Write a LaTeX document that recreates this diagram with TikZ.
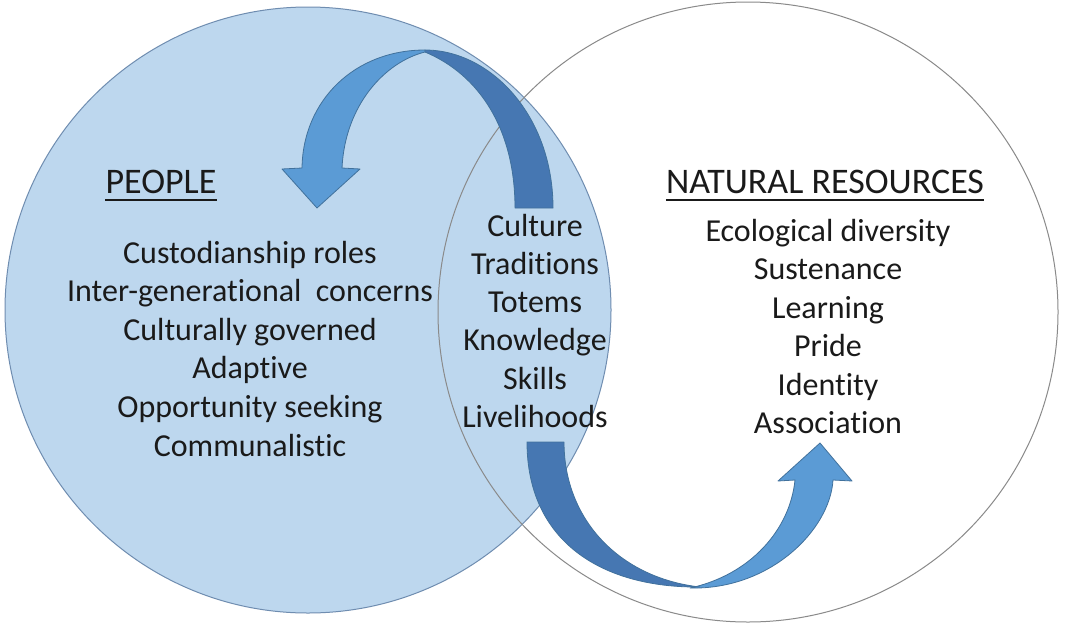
\documentclass[tikz,border=0pt]{standalone}
\usepackage{fontspec}
\setmainfont{Carlito}[Ligatures={NoCommon,NoRequired,NoContextual}]
% keep t and i apart, Carlito joins them otherwise
\newcommand{\tsep}{\kern0pt\relax}

\definecolor{peoplefill}{HTML}{BDD7EE}
\definecolor{peopleline}{HTML}{6F8DB0}
\definecolor{resline}{HTML}{8A8A8A}
\definecolor{arrowfront}{HTML}{5B9BD5}
\definecolor{arrowback}{HTML}{4677B2}
\definecolor{arrowedge}{HTML}{41719C}
\definecolor{textcol}{HTML}{1A1A1A}

\tikzset{
  itemtext/.style={text=textcol,font=\fontsize{32}{38}\selectfont,inner sep=0pt,anchor=base},
  heading/.style={itemtext,font=\fontsize{36}{40}\selectfont},
  underbar/.style={draw=textcol,line width=2.4pt},
  frontface/.style={fill=arrowfront,draw=arrowedge,line width=0.8pt,line join=round},
  backface/.style={fill=arrowback,draw=arrowedge,line width=0.8pt,line join=round}
}

\begin{document}
\begin{tikzpicture}[x=1pt,y=-1pt]
  \useasboundingbox (0,0) rectangle (1065,624);
  \fill[white] (0,0) rectangle (1065,624);
  % draw people circle
  \node at(308,310)[circle,fill=peoplefill,draw=peopleline,line width=1pt,minimum size=606pt](peoplecirc){};
  % draw natural resources circle
  \node at(748,312)[circle,draw=resline,line width=1pt,minimum size=620pt](rescirc){};
  % draw top arrow, back face then front face with head
  \path[backface] (425,50) .. controls (490,50) and (553,115) .. (553,208)
    -- (515,208) .. controls (515,130) and (480,75) .. (425,52) -- cycle;
  \path[frontface] (425,50) .. controls (355,50) and (303,100) .. (302,168)
    -- (282,169) -- (317,208) -- (360,169) -- (342,168)
    .. controls (345,105) and (385,62) .. (425,52) -- cycle;
  % draw bottom arrow, front face with head then back face
  \path[frontface] (690,588) .. controls (770,590) and (830,530) .. (833,480)
    -- (852,481) -- (820,443) -- (778,481) -- (795,480)
    .. controls (790,530) and (750,575) .. (690,588) -- cycle;
  \path[backface] (527,442) -- (564,442) .. controls (564,520) and (620,578) .. (700,587)
    .. controls (600,588) and (527,540) .. (527,442) -- cycle;
  % draw headings
  \node at(161,193)[heading](people){PEOPLE};
  \draw[underbar] ([yshift=-7pt]people.base west) -- ([yshift=-7pt]people.base east);
  \node at(825,193)[heading](natres){NATURAL RESOURCES};
  \draw[underbar] ([yshift=-7pt]natres.base west) -- ([yshift=-7pt]natres.base east);
  % draw the three lists
  \foreach \txt [count=\i] in {Custodianship roles,Inter-generat\tsep ional\ \ concerns,Culturally governed,Adapt\tsep ive,Opportunity seeking,Communalist\tsep ic}
    \node at(250,{263+38.6*(\i-1)})[itemtext](people-\i){\txt};
  \foreach \txt [count=\i] in {Culture,Tradit\tsep ions,Totems,Knowledge,Skills,Livelihoods}
    \node at(535,{236+38.3*(\i-1)})[itemtext](shared-\i){\txt};
  \foreach \txt [count=\i] in {Ecological diversity,Sustenance,Learning,Pride,Ident\tsep ity,Associat\tsep ion}
    \node at(828,{241+38.5*(\i-1)})[itemtext](natres-\i){\txt};
\end{tikzpicture}
\end{document}
